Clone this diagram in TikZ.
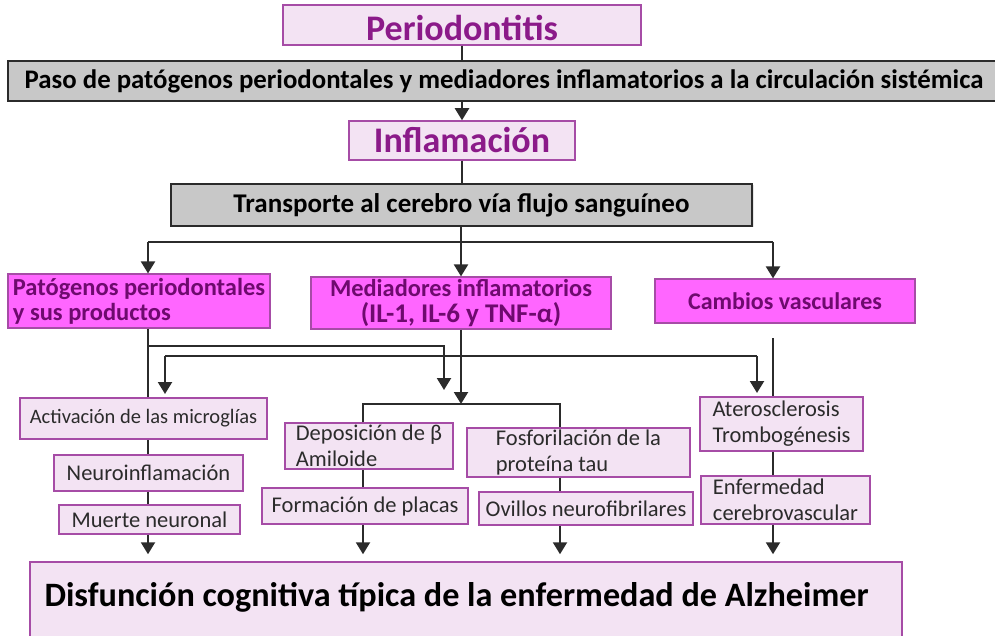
\documentclass[tikz,border=0pt]{standalone}
\usepackage{fontspec}
\setmainfont{Carlito}
\usepackage{tikz}
\usetikzlibrary{arrows.meta}
\usetikzlibrary{shadows}
\definecolor{lilac}{HTML}{F3E3F3}
\definecolor{plum}{HTML}{A64CA6}
\definecolor{hotpink}{HTML}{FF66FF}
\definecolor{grape}{HTML}{8B1A89}
\definecolor{darkgrape}{HTML}{6E0A6E}
\definecolor{greybox}{HTML}{C8C8C8}
\definecolor{ink}{HTML}{2B2B2B}
\tikzset{ titlebox/.style = {rectangle, draw=plum, line width=1.5pt, fill=lilac, text=grape, inner sep=0pt, font=\bfseries} }
\tikzset{ greybar/.style = {rectangle, draw=ink, line width=1.5pt, fill=greybox, inner sep=0pt, font=\bfseries, drop shadow={opacity=0.2, shadow xshift=1.5pt, shadow yshift=-1.5pt}} }
\tikzset{ hotbox/.style = {rectangle, draw=plum, line width=1.2pt, fill=hotpink, text=darkgrape, inner sep=0pt, align=left} }
\tikzset{ stepbox/.style = {rectangle, draw=plum, line width=1.5pt, fill=lilac, text=ink, inner sep=0pt, align=left, font=\fontsize{22.5}{26}\selectfont} }
\tikzset{ conn/.style = {draw=ink, line width=2.2pt} }
\tikzset{ arr/.style = {conn, -{Triangle[width=14pt,length=12pt]}} }

\begin{document}
\begin{tikzpicture}[x=1pt, y=-1pt]
    \useasboundingbox (0,0) rectangle (995,636);
    % columns of the lower part
    \coordinate (colA) at (148,0);
    \coordinate (colB) at (363,0);
    \coordinate (colC) at (461,0);
    \coordinate (colD) at (560,0);
    \coordinate (colE) at (773,0);

    \node[titlebox, minimum width=358pt, minimum height=40pt, text height=32pt, font=\bfseries\fontsize{36}{40}\selectfont] (perio) at (462,25) {Periodontitis};
    \node[greybar, minimum width=992pt, minimum height=40pt, font=\bfseries\fontsize{26.8}{30}\selectfont] (paso) at (504,81) {Paso de patógenos periodontales y mediadores inflamatorios a la circulación sistémica};
    \node[titlebox, minimum width=226pt, minimum height=39pt, font=\bfseries\fontsize{36}{40}\selectfont] (infla) at (462,140.5) {Inflamación};
    \node[greybar, minimum width=581pt, minimum height=42pt, font=\bfseries\fontsize{27}{30}\selectfont] (trans) at (461.5,205) {Transporte al cerebro vía flujo sanguíneo};

    \node[hotbox, minimum width=262pt, minimum height=54pt, font=\bfseries\fontsize{24.5}{25}\selectfont] (pato) at (139,301) {Patógenos periodontales\\y sus productos};
    \node[hotbox, minimum width=300pt, minimum height=52pt, align=center, font=\bfseries\fontsize{24.4}{26}\selectfont] (medi) at (461,303) {Mediadores inflamatorios\\{\fontsize{27}{26}\selectfont(IL-1, IL-6 y TNF-α)}};
    \node[hotbox, minimum width=260pt, minimum height=44pt, font=\bfseries\fontsize{24}{26}\selectfont] (camb) at (785,301) {Cambios vasculares};

    \node[stepbox, minimum width=247pt, minimum height=41pt, font=\fontsize{20.5}{26}\selectfont] (acti) at (143.5,418.5) {Activación de las microglías};
    \node[stepbox, minimum width=189pt, minimum height=36pt] (neuro) at (148.5,473) {Neuroinflamación};
    \node[stepbox, minimum width=181pt, minimum height=29pt] (muerte) at (149.5,519.5) {Muerte neuronal};
    \node[stepbox, minimum width=168pt, minimum height=46pt] (depo) at (369,446) {Deposición de β\\Amiloide};
    \node[stepbox, minimum width=206pt, minimum height=36pt] (forma) at (365,506) {Formación de placas};
    \node[stepbox, minimum width=223pt, minimum height=49pt] (fosfo) at (578.5,452.5) {Fosforilación de la\\proteína tau};
    \node[stepbox, minimum width=214pt, minimum height=33pt] (ovi) at (586,508.5) {Ovillos neurofibrilares};
    \node[stepbox, minimum width=163pt, minimum height=54pt] (atero) at (781.5,424) {Aterosclerosis\\Trombogénesis};
    \node[stepbox, minimum width=169pt, minimum height=48pt] (enfe) at (785.5,500) {Enfermedad\\cerebrovascular};

    \node[titlebox, minimum width=872pt, minimum height=90pt] (disf) at (466,607) {};
    \node[anchor=west, text=black, font=\bfseries\fontsize{34.2}{40}\selectfont] (disftxt) at (41,597) {Disfunción cognitiva típica de la enfermedad de Alzheimer};

    % top chain
    \draw[conn] (perio.south) -- (paso.north -| perio.south);
    \draw[arr] (paso.south -| infla.north) -- (infla.north);
    \draw[conn] (infla.south) -- (trans.north -| infla.south);
    \draw[conn] (colA |- 0,242) -- (colE |- 0,242);
    \draw[conn] (trans.south -| colC) -- (colC |- 0,242);
    \draw[arr] (colA |- 0,242) -- (pato.north -| colA);
    \draw[arr] (colC |- 0,242) -- (medi.north -| colC);
    \draw[arr] (colE |- 0,242) -- (camb.north -| colE);

    % branches
    \draw[conn] (pato.south -| colA) -- (acti.north -| colA);
    \draw[arr] (colA |- 0,346) -| (444,390);
    \draw[arr] (medi.south -| colC) -- (colC |- 0,404);
    \draw[conn] (165,356) -- (757,356);
    \draw[arr] (165,356) -- (165,394);
    \draw[arr] (757,356) -- (757,393);
    \draw[conn] (colE |- 0,338) -- (atero.north -| colE);
    \draw[conn] (colB |- depo.north) |- (colD |- 0,404) -- (colD |- fosfo.north);

    % columns down to the bottom box
    \draw[conn] (acti.south -| colA) -- (neuro.north -| colA);
    \draw[conn] (neuro.south -| colA) -- (muerte.north -| colA);
    \draw[arr, shorten >=7pt] (muerte.south -| colA) -- (disf.north -| colA);
    \draw[conn] (depo.south -| colB) -- (forma.north -| colB);
    \draw[arr, shorten >=7pt] (forma.south -| colB) -- (disf.north -| colB);
    \draw[conn] (fosfo.south -| colD) -- (ovi.north -| colD);
    \draw[arr, shorten >=7pt] (ovi.south -| colD) -- (disf.north -| colD);
    \draw[conn] (atero.south -| colE) -- (enfe.north -| colE);
    \draw[arr, shorten >=7pt] (enfe.south -| colE) -- (disf.north -| colE);
\end{tikzpicture}
\end{document}
